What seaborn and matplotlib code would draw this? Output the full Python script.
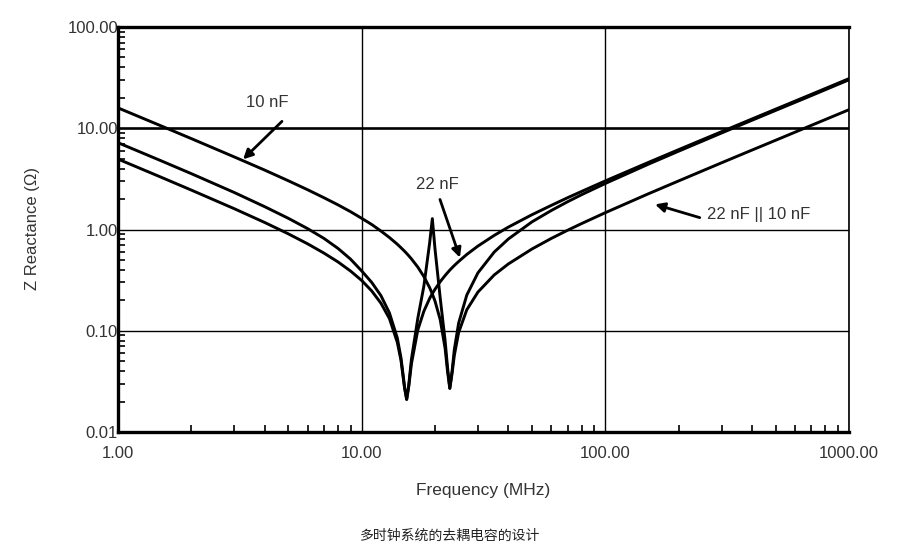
import matplotlib
matplotlib.use("Agg")
import matplotlib.pyplot as plt
import numpy as np
import pandas as pd
import seaborn as sns
from matplotlib.ticker import FixedLocator, FixedFormatter, LogLocator, NullFormatter

sns.set_theme(style="white")
plt.rcParams["font.family"] = ["Liberation Sans", "DejaVu Sans"]

# ---- data ----
freq_mhz = [1, 1.5, 2, 3, 4, 5, 6, 7, 8, 9, 10, 11, 12, 13, 14, 14.5, 15, 15.3, 15.6,
            16, 17, 18, 19, 19.5, 20, 21, 22, 22.5, 23, 23.5, 24, 25, 27, 30, 35, 40,
            50, 60, 70, 80, 100, 150, 200, 300, 400, 500, 700, 1000]
z_10nf = [15.89, 10.57, 7.90, 5.21, 3.86, 3.03, 2.47, 2.06, 1.75, 1.50, 1.29, 1.12,
          0.965, 0.833, 0.716, 0.661, 0.610, 0.580, 0.551, 0.513, 0.425, 0.343, 0.267,
          0.231, 0.196, 0.129, 0.067, 0.040, 0.027, 0.040, 0.065, 0.119, 0.225, 0.373,
          0.599, 0.806, 1.19, 1.54, 1.88, 2.21, 2.85, 4.41, 5.94, 8.98, 12.0, 15.0,
          21.0, 30.1]
z_22nf = [7.20, 4.78, 3.56, 2.32, 1.68, 1.29, 1.02, 0.817, 0.650, 0.510, 0.390, 0.300,
          0.222, 0.150, 0.085, 0.054, 0.028, 0.021, 0.028, 0.047, 0.102, 0.156, 0.208,
          0.233, 0.257, 0.305, 0.351, 0.374, 0.397, 0.419, 0.441, 0.483, 0.567, 0.686,
          0.875, 1.056, 1.40, 1.73, 2.06, 2.38, 3.02, 4.59, 6.15, 9.25, 12.35, 15.44,
          21.6, 30.9]
z_parallel = [4.96, 3.29, 2.45, 1.605, 1.173, 0.906, 0.722, 0.585, 0.478, 0.389, 0.314,
              0.247, 0.187, 0.132, 0.077, 0.051, 0.027, 0.021, 0.029, 0.052, 0.133,
              0.276, 0.73, 1.28, 0.64, 0.212, 0.080, 0.044, 0.027, 0.038, 0.057, 0.096,
              0.161, 0.241, 0.356, 0.457, 0.642, 0.816, 0.983, 1.146, 1.466, 2.25, 3.02,
              4.56, 6.09, 7.61, 10.67, 15.25]
series_names = ["10 nF", "22 nF", "22 nF || 10 nF"]

x_ticks = [1, 10, 100, 1000]
x_tick_labels = ["1.00", "10.00", "100.00", "1000.00"]
y_ticks = [0.01, 0.1, 1, 10, 100]
y_tick_labels = ["0.01", "0.10", "1.00", "10.00", "100.00"]

df = pd.DataFrame({
    "Frequency": freq_mhz * 3,
    "Z": z_10nf + z_22nf + z_parallel,
    "Series": [series_names[0]] * len(freq_mhz) + [series_names[1]] * len(freq_mhz)
              + [series_names[2]] * len(freq_mhz),
})

fig = plt.figure(figsize=(9, 5.57), dpi=100)
ax = fig.add_axes([118 / 900, 1 - 432 / 557, (849 - 118) / 900, (432 - 27) / 557])

sns.lineplot(data=df, x="Frequency", y="Z", hue="Series", palette=["black"] * 3,
             linewidth=2.1, legend=False, errorbar=None, estimator=None, sort=False, ax=ax)

ax.set_xscale("log")
ax.set_yscale("log")
ax.set_xlim(1, 1000)
ax.set_ylim(0.01, 100)

ax.xaxis.set_major_locator(FixedLocator(x_ticks))
ax.xaxis.set_major_formatter(FixedFormatter(x_tick_labels))
ax.yaxis.set_major_locator(FixedLocator(y_ticks))
ax.yaxis.set_major_formatter(FixedFormatter(y_tick_labels))
ax.xaxis.set_minor_locator(LogLocator(base=10, subs=np.arange(2, 10), numticks=20))
ax.yaxis.set_minor_locator(LogLocator(base=10, subs=np.arange(2, 10), numticks=20))
ax.xaxis.set_minor_formatter(NullFormatter())
ax.yaxis.set_minor_formatter(NullFormatter())

ax.tick_params(which="major", length=0, labelsize=12, labelcolor="#333333")
ax.tick_params(axis="x", which="major", pad=10)
ax.tick_params(axis="y", which="major", pad=0)
ax.tick_params(which="minor", direction="in", length=5, width=1.2, color="black",
               bottom=True, left=True, top=False, right=False)

ax.grid(True, which="major", color="black", linewidth=1.0)
for t in ax.yaxis.get_major_ticks():
    if t.get_loc() in (0.1, 10):
        t.gridline.set_linewidth(1.9)

for side in ["top", "left", "bottom"]:
    ax.spines[side].set_linewidth(2.4)
    ax.spines[side].set_color("black")
ax.spines["right"].set_linewidth(1.2)
ax.spines["right"].set_color("black")
ax.set_xlabel("")
ax.set_ylabel("")

arrow_kw = dict(arrowstyle="-|>", color="black", lw=2.0, mutation_scale=14,
                shrinkA=0, shrinkB=0)
ax.text(4.1, 18.1, "10 nF", ha="center", va="center", fontsize=12, color="#333333")
ax.annotate("", xy=(3.26, 4.93), xytext=(4.71, 11.7), arrowprops=arrow_kw)
ax.text(20.5, 2.79, "22 nF", ha="center", va="center", fontsize=12, color="#333333")
ax.annotate("", xy=(25.3, 0.528), xytext=(20.96, 1.98), arrowprops=arrow_kw)
ax.text(262, 1.41, "22 nF || 10 nF", ha="left", va="center", fontsize=12, color="#333333")
ax.annotate("", xy=(160, 1.77), xytext=(244, 1.31), arrowprops=arrow_kw)

fig.text(483 / 900, 1 - 490 / 557, "Frequency (MHz)", ha="center", va="center",
         fontsize=12.5, color="#333333")
fig.text(32 / 900, 1 - 229 / 557, "Z Reactance (\u03a9)", ha="center", va="center",
         rotation=90, fontsize=12, color="#333333")
fig.text(450 / 900, 1 - 536 / 557, "多时钟系统的去耦电容的设计", ha="center", va="center",
         fontsize=10, color="#222222", family=["Noto Sans CJK SC", "DejaVu Sans"])

fig.savefig("out.png", dpi=100, facecolor="white")
